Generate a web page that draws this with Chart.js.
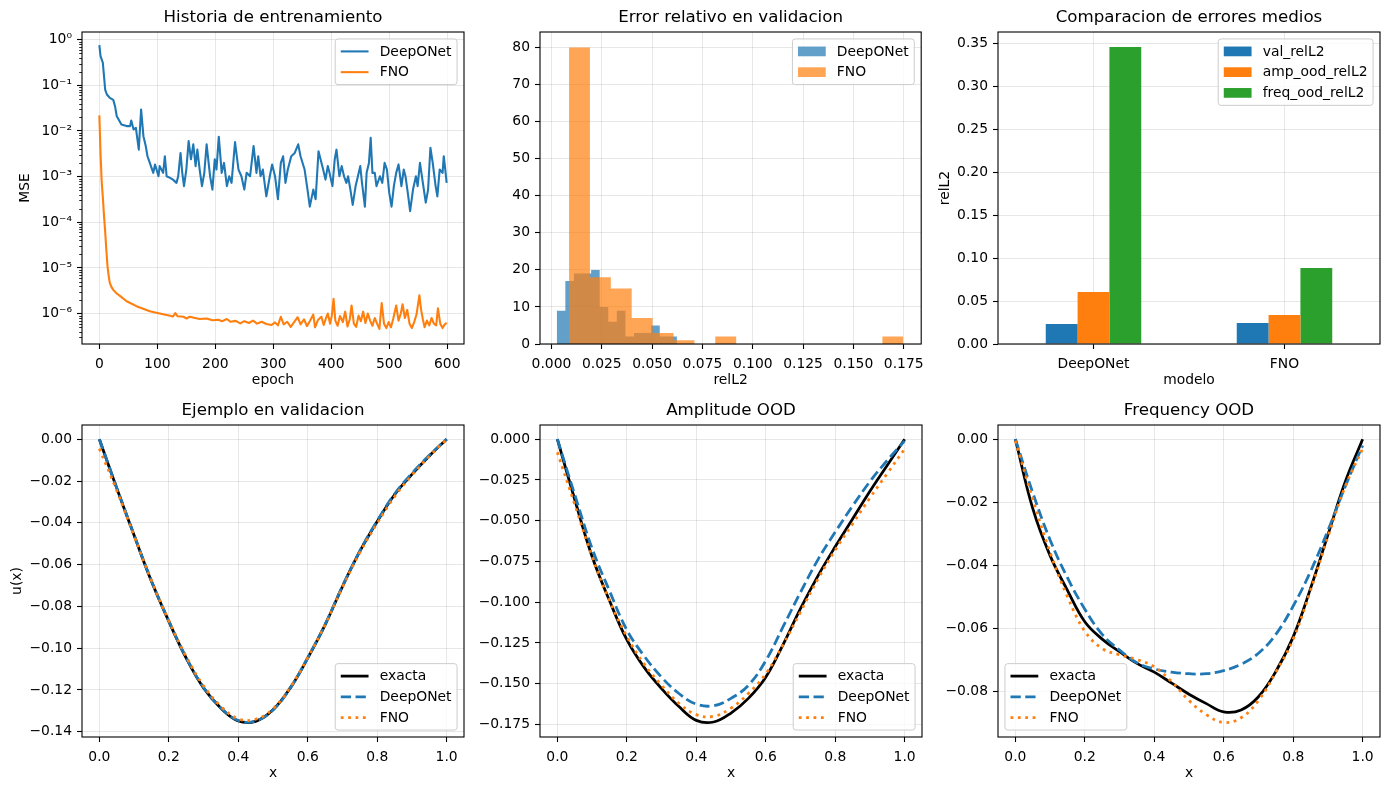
<!DOCTYPE html>
<html>
<head>
<meta charset="utf-8">
<script src="https://cdn.jsdelivr.net/npm/chart.js@4.4.1/dist/chart.umd.min.js"></script>
<style>
  body { margin: 0; background: #fff; width: 1389px; height: 790px; position: relative; overflow: hidden; }
  canvas { position: absolute; }
</style>
</head>
<body>
<canvas id="historyChart"></canvas>
<canvas id="histChart"></canvas>
<canvas id="barChart"></canvas>
<canvas id="valChart"></canvas>
<canvas id="ampChart"></canvas>
<canvas id="freqChart"></canvas>
<script>
// ---- data ----

// Historia de entrenamiento (MSE per epoch)
const deeponetEpochs = [0,2,4,6,8,10,13,18,24,27,30,33,38,47,53,55,59,63,68,72,76,80,83,87,93,96,102,104,110,113,116,122,127,133,136,140,143,146,150,154,158,162,166,169,173,177,181,185,191,195,199,202,206,211,215,220,224,228,234,240,245,250,254,260,266,271,274,278,282,288,294,298,303,308,313,317,321,325,331,337,343,347,354,359,363,369,373,378,386,390,394,397,402,406,409,414,418,422,426,429,433,437,442,446,450,453,458,461,465,468,471,475,478,484,488,492,496,500,504,508,512,516,521,525,528,532,536,541,546,549,553,558,563,567,571,575,580,583,587,592,594,596,599];
const deeponetMSE = [0.76,0.44,0.37,0.31,0.16,0.081,0.063,0.053,0.048,0.035,0.021,0.018,0.0139,0.0128,0.0128,0.017,0.0108,0.0117,0.0039,0.0297,0.0077,0.0047,0.0028,0.0020,0.00121,0.00185,0.00102,0.0017,0.00121,0.0028,0.00102,0.00094,0.00086,0.00073,0.00102,0.0033,0.00121,0.00062,0.00143,0.0060,0.0024,0.0051,0.0017,0.0039,0.00143,0.00062,0.0012,0.0051,0.00102,0.00052,0.0024,0.00143,0.0075,0.00121,0.0020,0.00062,0.00102,0.00073,0.0057,0.00143,0.00102,0.00052,0.00121,0.00102,0.0047,0.00121,0.0028,0.00102,0.00143,0.00037,0.00102,0.00185,0.00102,0.00032,0.0020,0.0028,0.00073,0.00143,0.0028,0.0033,0.0051,0.0028,0.00143,0.00052,0.00022,0.00052,0.00032,0.0036,0.00143,0.00086,0.0017,0.00121,0.00062,0.0024,0.0039,0.00102,0.0017,0.00102,0.00073,0.00102,0.00052,0.00024,0.00062,0.00102,0.0017,0.00073,0.00022,0.00121,0.0020,0.0071,0.00121,0.00121,0.00062,0.00102,0.00073,0.0020,0.00143,0.00044,0.00022,0.00062,0.00121,0.00185,0.00062,0.00143,0.00102,0.00044,0.000175,0.00052,0.00102,0.00062,0.0020,0.00073,0.00027,0.00052,0.0043,0.0020,0.00062,0.00037,0.00143,0.00121,0.0028,0.0017,0.00073];
const fnoEpochs = [0,2,4,6,8,10,12,14,16,18,21,24,30,36,47,64,87,104,122,127,131,135,145,150,156,165,173,185,195,205,212,220,226,235,243,250,258,265,272,280,288,297,303,308,313,318,324,330,336,342,347,353,358,363,369,372,377,383,387,391,394,398,401,404,407,411,415,420,424,428,432,435,439,443,447,451,455,459,463,467,471,475,479,483,487,491,495,499,503,507,512,516,520,523,527,531,535,539,543,547,552,555,558,561,565,569,573,577,581,584,588,592,595,599];
const fnoMSE = [0.022,3.2e-3,7.9e-4,3.5e-4,1.4e-4,6.3e-5,2.5e-5,1.1e-5,6.8e-6,4.7e-6,3.8e-6,3.3e-6,2.75e-6,2.4e-6,1.86e-6,1.45e-6,1.12e-6,1.0e-6,8.9e-7,8.6e-7,1.02e-6,8.7e-7,8.5e-7,7.8e-7,8.5e-7,8.0e-7,7.6e-7,7.8e-7,7.1e-7,7.3e-7,6.8e-7,7.6e-7,6.6e-7,6.9e-7,6.1e-7,6.8e-7,6.2e-7,7.0e-7,6.0e-7,6.6e-7,5.9e-7,5.6e-7,6.4e-7,5.5e-7,8.5e-7,5.8e-7,6.6e-7,5.1e-7,6.5e-7,8.3e-7,5.8e-7,7.5e-7,5.3e-7,6.8e-7,9.5e-7,5.0e-7,7.2e-7,8.5e-7,5.6e-7,8.0e-7,1.0e-6,6.0e-7,9.0e-7,2.1e-6,7.0e-7,5.4e-7,8.8e-7,6.5e-7,1.1e-6,5.2e-7,7.5e-7,1.5e-6,6.0e-7,5.1e-7,9.0e-7,6.8e-7,1.1e-6,6.2e-7,1.0e-6,7.0e-7,5.4e-7,8.0e-7,6.0e-7,4.6e-7,1.7e-6,6.0e-7,4.8e-7,6.5e-7,5.0e-7,7.8e-7,1.5e-6,7.0e-7,1.0e-6,1.6e-6,8.0e-7,1.2e-6,6.0e-7,4.8e-7,6.5e-7,9.5e-7,2.5e-6,1.2e-6,7.5e-7,5.0e-7,7.0e-7,5.5e-7,8.0e-7,6.0e-7,5.5e-7,1.3e-6,6.0e-7,4.8e-7,5.6e-7,6.3e-7];

// Error relativo en validacion (histogram bins)
const deeponetBinEdges = [0.00263,0.00689,0.01116,0.01542,0.01969,0.02395,0.02821,0.03248,0.03674,0.04101,0.04527,0.04953,0.05380,0.05806,0.06233];
const deeponetCounts = [9,17,19,19,20,10,6,9,2,3,3,5,2,2];
const fnoBinEdges = [0.00873,0.01911,0.02949,0.03987,0.05025,0.06063,0.07101,0.08139,0.09177,0.10215,0.11253,0.12291,0.13329,0.14367,0.15405,0.16443,0.17481];
const fnoCounts = [80,18,15,7,3,1,0,2,0,0,0,0,0,0,0,2];

// Comparacion de errores medios
const models = ['DeepONet', 'FNO'];
const valRelL2 = [0.0233, 0.0245];
const ampOodRelL2 = [0.0606, 0.0338];
const freqOodRelL2 = [0.3458, 0.0886];

// u(x) samples
const xs = [0,0.05,0.1,0.15,0.2,0.25,0.3,0.35,0.4,0.45,0.5,0.55,0.6,0.65,0.7,0.75,0.8,0.85,0.9,0.95,1.0];
const valExact = [0,-0.0234,-0.0460,-0.0680,-0.0872,-0.1047,-0.1190,-0.1287,-0.1348,-0.1350,-0.1295,-0.1190,-0.1047,-0.0888,-0.0705,-0.0537,-0.0394,-0.0266,-0.0168,-0.0080,0];
const valDeep = [0,-0.0232,-0.0458,-0.0678,-0.0870,-0.1045,-0.1188,-0.1286,-0.1346,-0.1349,-0.1296,-0.1190,-0.1046,-0.0886,-0.0703,-0.0535,-0.0391,-0.0262,-0.0163,-0.0077,0.0001];
const valFno = [-0.0045,-0.0245,-0.0462,-0.0676,-0.0868,-0.1040,-0.1180,-0.1278,-0.1338,-0.1340,-0.1290,-0.1186,-0.1045,-0.0888,-0.0708,-0.0542,-0.0402,-0.0275,-0.0172,-0.0082,0.0000];
const ampExact = [0,-0.037,-0.072,-0.099,-0.123,-0.140,-0.153,-0.164,-0.1725,-0.1735,-0.168,-0.159,-0.146,-0.126,-0.104,-0.084,-0.066,-0.049,-0.032,-0.016,0];
const ampDeep = [0,-0.034,-0.067,-0.093,-0.117,-0.133,-0.146,-0.156,-0.1625,-0.1635,-0.159,-0.151,-0.136,-0.115,-0.094,-0.074,-0.057,-0.041,-0.026,-0.013,-0.001];
const ampFno = [-0.008,-0.040,-0.072,-0.099,-0.121,-0.138,-0.151,-0.162,-0.169,-0.170,-0.165,-0.156,-0.144,-0.126,-0.106,-0.086,-0.068,-0.052,-0.036,-0.021,-0.006];
const freqExact = [0,-0.022,-0.037,-0.048,-0.058,-0.0635,-0.0675,-0.0712,-0.074,-0.0775,-0.081,-0.084,-0.0866,-0.086,-0.0818,-0.0738,-0.0628,-0.0474,-0.0304,-0.0135,0];
const freqDeep = [0,-0.017,-0.032,-0.044,-0.054,-0.062,-0.067,-0.071,-0.073,-0.074,-0.0745,-0.0745,-0.0735,-0.0715,-0.068,-0.062,-0.053,-0.042,-0.029,-0.015,-0.002];
const freqFno = [-0.0005,-0.019,-0.036,-0.050,-0.061,-0.0665,-0.0685,-0.070,-0.0723,-0.077,-0.083,-0.0875,-0.090,-0.0885,-0.083,-0.074,-0.0635,-0.048,-0.031,-0.015,-0.003];

// ticks
const epochTicks = [0,100,200,300,400,500,600];
const mseTicks = [1e-6,1e-5,1e-4,1e-3,1e-2,1e-1,1];
const mseTickLabels = ['10\u207B\u2076','10\u207B\u2075','10\u207B\u2074','10\u207B\u00B3','10\u207B\u00B2','10\u207B\u00B9','10\u2070'];
const relTicks = [0,0.025,0.05,0.075,0.1,0.125,0.15,0.175];
const countTicks = [0,10,20,30,40,50,60,70,80];
const barTicks = [0,0.05,0.1,0.15,0.2,0.25,0.3,0.35];
const xUnitTicks = [0,0.2,0.4,0.6,0.8,1.0];
const valTicks = [0,-0.02,-0.04,-0.06,-0.08,-0.1,-0.12,-0.14];
const ampTicks = [0,-0.025,-0.05,-0.075,-0.1,-0.125,-0.15,-0.175];
const freqTicks = [0,-0.02,-0.04,-0.06,-0.08];

// ---- styling ----
const FONT = 'DejaVu Sans';
const TICK_FONT = { family: FONT, size: 13.89 };
const GRID = 'rgba(176,176,176,0.3)';
const BLUE = '#1f77b4', ORANGE = '#ff7f0e', GREEN = '#2ca02c';
const PLOT_W = 382, PLOT_H = 312, Y_AXIS_W = 80, X_AXIS_H = 50, TITLE_H = 32, RIGHT_PAD = 9;
const COL_LEFT = [82, 540, 998], ROW_TOP = [32, 425];

const fmtTick = (v, d) => (v < -1e-12 ? '\u2212' : '') + Math.abs(v).toFixed(d);

// frame on all four sides, like matplotlib spines
const framePlugin = {
  id: 'frame',
  afterDatasetsDraw(chart) {
    const { ctx, chartArea: a } = chart;
    ctx.save();
    ctx.strokeStyle = '#000';
    ctx.lineWidth = 1.1;
    ctx.strokeRect(a.left, a.top, a.right - a.left, a.bottom - a.top);
    ctx.restore();
  },
};

// legend drawn inside the axes
const mplLegend = {
  id: 'mplLegend',
  afterDraw(chart, args, opts) {
    if (!opts.loc) return;
    const { ctx, chartArea: a } = chart;
    const fs = 13.89, pad = 0.4 * fs, hl = 2 * fs, htp = 0.8 * fs, ls = 0.5 * fs, bap = 0.5 * fs, rowH = 13.8;
    const items = chart.data.datasets.map(d => ({
      label: d.label,
      color: opts.patch ? d.backgroundColor : d.borderColor,
      width: d.borderWidth, dash: d.borderDash || [],
    }));
    ctx.save();
    ctx.font = `${fs}px "${FONT}"`;
    const tw = Math.max(...items.map(it => ctx.measureText(it.label).width));
    const w = pad * 2 + hl + htp + tw;
    const h = pad * 2 + items.length * rowH + (items.length - 1) * ls;
    const x = opts.loc.includes('left') ? a.left + bap : a.right - bap - w;
    const y = opts.loc.includes('upper') ? a.top + bap : a.bottom - bap - h;
    ctx.beginPath();
    ctx.roundRect(x, y, w, h, 2.8);
    ctx.fillStyle = 'rgba(255,255,255,0.8)';
    ctx.fill();
    ctx.strokeStyle = '#cccccc';
    ctx.lineWidth = 1;
    ctx.stroke();
    items.forEach((it, i) => {
      const cy = y + pad + rowH / 2 + i * (rowH + ls);
      const hx = x + pad;
      if (opts.patch) {
        ctx.fillStyle = it.color;
        ctx.fillRect(hx, cy - 0.35 * fs, hl, 0.7 * fs);
      } else {
        ctx.beginPath();
        ctx.setLineDash(it.dash);
        ctx.strokeStyle = it.color;
        ctx.lineWidth = it.width;
        ctx.moveTo(hx, cy);
        ctx.lineTo(hx + hl, cy);
        ctx.stroke();
        ctx.setLineDash([]);
      }
      ctx.fillStyle = '#000';
      ctx.textBaseline = 'middle';
      ctx.textAlign = 'left';
      ctx.fillText(it.label, hx + hl + htp, cy + 0.5);
    });
    ctx.restore();
  },
};

Chart.register(framePlugin, mplLegend);

function placeCanvas(id, col, row) {
  const el = document.getElementById(id);
  el.width = Y_AXIS_W + PLOT_W + RIGHT_PAD;
  el.height = TITLE_H + PLOT_H + X_AXIS_H;
  el.style.left = (COL_LEFT[col] - Y_AXIS_W) + 'px';
  el.style.top = (ROW_TOP[row] - TITLE_H) + 'px';
  return el.getContext('2d');
}

function gridOpts() {
  return { color: GRID, lineWidth: 1, tickColor: '#000', tickWidth: 1.1, tickLength: 5, offset: false };
}

function xAxis(o) {
  const s = {
    type: o.type || 'linear',
    position: 'bottom',
    afterFit: ax => { ax.height = X_AXIS_H; },
    grid: gridOpts(),
    border: { display: false },
    ticks: { color: '#000', font: TICK_FONT, padding: 7, autoSkip: false, maxRotation: 0 },
    title: { display: !!o.title, text: o.title || '', color: '#000', font: TICK_FONT, padding: { top: 0, bottom: 5 } },
  };
  if (o.min !== undefined) { s.min = o.min; s.max = o.max; }
  if (o.ticks) {
    s.afterBuildTicks = ax => { ax.ticks = o.ticks.map(v => ({ value: v })); };
    s.ticks.callback = v => fmtTick(v, o.digits);
  }
  return s;
}

function yAxis(o) {
  const s = {
    type: o.type || 'linear',
    position: 'left',
    min: o.min, max: o.max,
    afterFit: ax => { ax.width = Y_AXIS_W; },
    afterBuildTicks: ax => { ax.ticks = o.ticks.map(v => ({ value: v })); },
    grid: gridOpts(),
    border: { display: false },
    ticks: { color: '#000', font: TICK_FONT, padding: 5, autoSkip: false, callback: o.format || (v => fmtTick(v, o.digits)) },
    title: { display: !!o.title, text: o.title || '', color: '#000', font: TICK_FONT, padding: { top: o.titlePad || 0, bottom: 0 } },
  };
  return s;
}

function baseOptions(title, legendLoc, patch, scales) {
  return {
    responsive: false,
    animation: false,
    events: [],
    layout: { padding: { left: 0, top: 0, right: RIGHT_PAD, bottom: 0 }, autoPadding: false },
    plugins: {
      legend: { display: false },
      tooltip: { enabled: false },
      title: {
        display: true, text: title, color: '#000', fullSize: false,
        font: { family: FONT, size: 16.67, weight: 'normal' },
        padding: { top: 8, bottom: 4 },
      },
      mplLegend: { loc: legendLoc, patch: patch },
    },
    scales,
  };
}

function lineSet(label, xsArr, ysArr, color, width, dash, order) {
  return {
    label,
    data: xsArr.map((x, i) => ({ x, y: ysArr[i] })),
    borderColor: color,
    borderWidth: width,
    borderDash: dash,
    borderJoinStyle: 'round',
    pointRadius: 0,
    fill: false,
    order,
  };
}

// ---- Historia de entrenamiento ----
const minorLogTicks = {
  id: 'minorLogTicks',
  afterDraw(chart) {
    const { ctx, chartArea: a, scales: { y } } = chart;
    ctx.save();
    ctx.strokeStyle = '#000';
    ctx.lineWidth = 0.85;
    for (let k = -7; k <= 0; k++) {
      for (let m = 2; m <= 9; m++) {
        const v = m * Math.pow(10, k);
        if (v <= y.min || v >= y.max) continue;
        const py = Math.round(y.getPixelForValue(v)) + 0.5;
        ctx.beginPath();
        ctx.moveTo(a.left - 2.8, py);
        ctx.lineTo(a.left, py);
        ctx.stroke();
      }
    }
    ctx.restore();
  },
};

new Chart(placeCanvas('historyChart', 0, 0), {
  type: 'line',
  data: {
    datasets: [
      lineSet('DeepONet', deeponetEpochs, deeponetMSE, BLUE, 2.08, [], 1),
      lineSet('FNO', fnoEpochs, fnoMSE, ORANGE, 2.08, [], 0),
    ],
  },
  options: baseOptions('Historia de entrenamiento', 'upper right', false, {
    x: xAxis({ min: -29.95, max: 628.95, ticks: epochTicks, digits: 0, title: 'epoch' }),
    y: yAxis({
      type: 'logarithmic', min: 2.15e-7, max: 1.476, ticks: mseTicks, title: 'MSE', titlePad: 14.7,
      format: v => mseTickLabels[mseTicks.findIndex(t => Math.abs(t - v) / t < 1e-6)],
    }),
  }),
  plugins: [minorLogTicks],
});

// ---- Error relativo en validacion ----
function histSet(label, edges, counts, color, order) {
  return {
    label,
    data: edges.map((e, i) => ({ x: e, y: i < counts.length ? counts[i] : 0 })),
    stepped: 'before',
    fill: 'origin',
    backgroundColor: color,
    borderColor: 'transparent',
    borderWidth: 0,
    pointRadius: 0,
    order,
  };
}

new Chart(placeCanvas('histChart', 1, 0), {
  type: 'line',
  data: {
    datasets: [
      histSet('DeepONet', deeponetBinEdges, deeponetCounts, 'rgba(31,119,180,0.7)', 1),
      histSet('FNO', fnoBinEdges, fnoCounts, 'rgba(255,127,14,0.7)', 0),
    ],
  },
  options: baseOptions('Error relativo en validacion', 'upper right', true, {
    x: xAxis({ min: -0.0057, max: 0.1837, ticks: relTicks, digits: 3, title: 'relL2' }),
    y: yAxis({ min: 0, max: 84.2, ticks: countTicks, digits: 0 }),
  }),
});

// ---- Comparacion de errores medios ----
const barOpts = { categoryPercentage: 0.5, barPercentage: 1.0, borderWidth: 0 };
new Chart(placeCanvas('barChart', 2, 0), {
  type: 'bar',
  data: {
    labels: models,
    datasets: [
      { label: 'val_relL2', data: valRelL2, backgroundColor: BLUE, ...barOpts },
      { label: 'amp_ood_relL2', data: ampOodRelL2, backgroundColor: ORANGE, ...barOpts },
      { label: 'freq_ood_relL2', data: freqOodRelL2, backgroundColor: GREEN, ...barOpts },
    ],
  },
  options: baseOptions('Comparacion de errores medios', 'upper right', true, {
    x: xAxis({ type: 'category', title: 'modelo' }),
    y: yAxis({ min: 0, max: 0.3633, ticks: barTicks, digits: 2, title: 'relL2', titlePad: 18.7 }),
  }),
});

// ---- u(x) panels ----
function profileChart(id, col, title, exact, deep, fno, yMin, yMax, yTicks, digits, loc, yTitle, yPad) {
  new Chart(placeCanvas(id, col, 1), {
    type: 'line',
    data: {
      datasets: [
        { ...lineSet('exacta', xs, exact, '#000', 2.78, [], 2), tension: 0.4 },
        { ...lineSet('DeepONet', xs, deep, BLUE, 2.78, [10.3, 4.45], 1), tension: 0.4 },
        { ...lineSet('FNO', xs, fno, ORANGE, 2.78, [2.78, 4.6], 0), tension: 0.4 },
      ],
    },
    options: baseOptions(title, loc, false, {
      x: xAxis({ min: -0.05, max: 1.05, ticks: xUnitTicks, digits: 1, title: 'x' }),
      y: yAxis({ min: yMin, max: yMax, ticks: yTicks, digits, title: yTitle, titlePad: yPad }),
    }),
  });
}

profileChart('valChart', 0, 'Ejemplo en validacion', valExact, valDeep, valFno, -0.1425, 0.0068, valTicks, 2, 'lower right', 'u(x)', 7.4);
profileChart('ampChart', 1, 'Amplitude OOD', ampExact, ampDeep, ampFno, -0.1827, 0.0087, ampTicks, 3, 'lower right');
profileChart('freqChart', 2, 'Frequency OOD', freqExact, freqDeep, freqFno, -0.0946, 0.0045, freqTicks, 2, 'lower left');
</script>
</body>
</html>
